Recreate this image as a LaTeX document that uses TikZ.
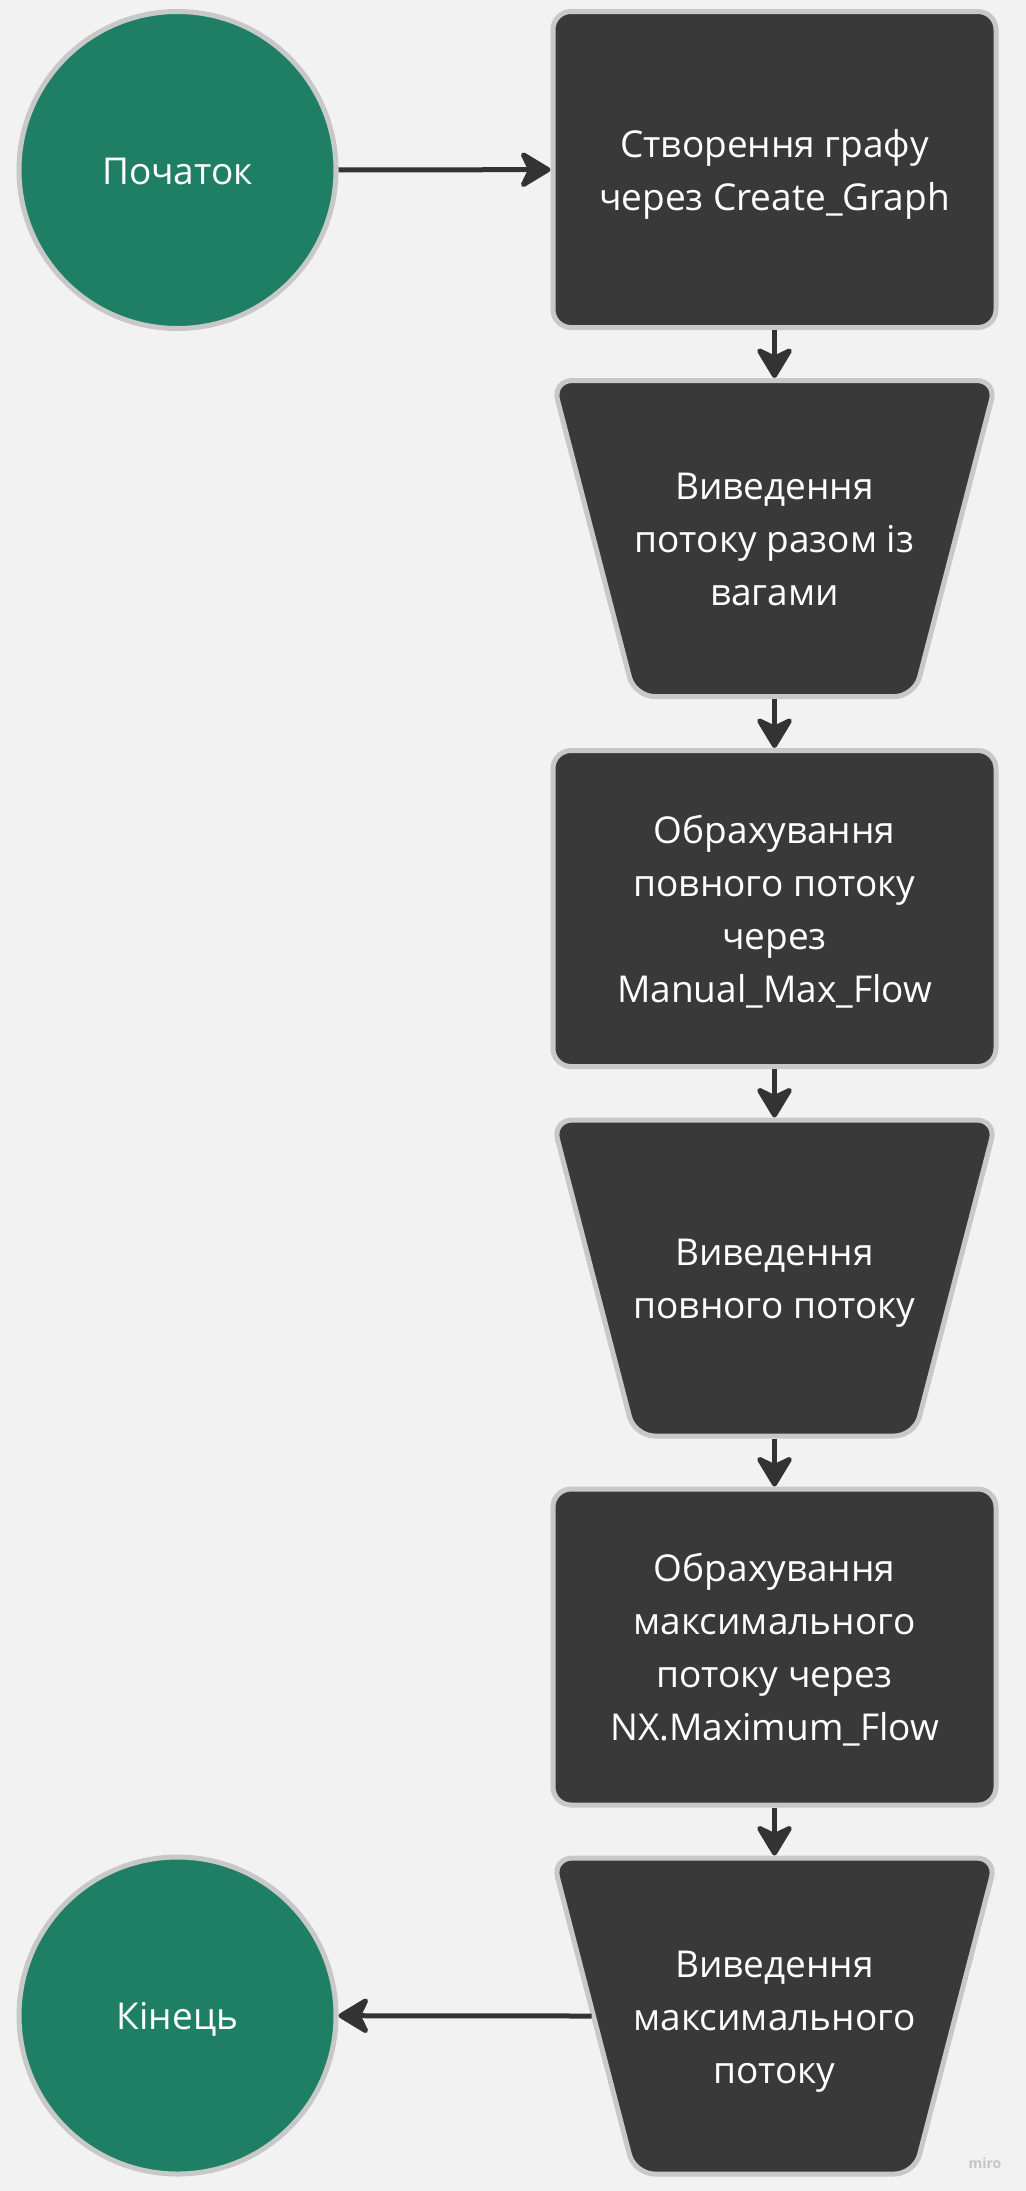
\documentclass[tikz,border=0pt]{standalone}
\usepackage{fontspec}
\setmainfont{Open Sans}
\usetikzlibrary{arrows.meta}
\definecolor{bgc}{HTML}{F2F2F2}
\definecolor{greenc}{HTML}{1E7F65}
\definecolor{boxc}{HTML}{393939}
\definecolor{edgec}{HTML}{C8C8C8}
\definecolor{arrowc}{HTML}{333333}
\definecolor{markc}{HTML}{C4C4C4}
\newcommand{\ls}{\rule[-0.325em]{0pt}{1.425em}}
\tikzset{
  base/.style={text=white, align=center, inner sep=0pt,
    font={\fontsize{18.5pt}{26.5pt}\selectfont}},
  terminal/.style={base, draw=edgec, line width=2.5pt, circle, fill=greenc, minimum size=158.5pt},
  process/.style={base, draw=edgec, line width=2.5pt, rectangle, fill=boxc, rounded corners=9pt,
    minimum width=221.5pt, minimum height=158pt},
  outtext/.style={base, rectangle, outer sep=0pt, minimum width=183pt, minimum height=160.5pt},
  trapshape/.style={draw=edgec, line width=2.5pt, fill=boxc, rounded corners=10pt},
  flow/.style={draw=arrowc, line width=2.5pt,
    -{Stealth[length=17.5pt, width=21pt, inset=5pt, round]}},
}
% name, x, y, text
\newcommand{\outnode}[4]{%
  \path[trapshape] (#2-222,#3-158) -- (#2+222,#3-158) -- (#2+140,#3+158) -- (#2-140,#3+158) -- cycle;
  \node[outtext] (#1) at (#2,#3) {#4};
}
\begin{document}
\begin{tikzpicture}[x=0.5pt, y=-0.5pt]
\fill[bgc] (0,0) rectangle (1026,2191);
\useasboundingbox (0,0) rectangle (1026,2191);
\node[terminal] (start) at (177.5,170) {\ls Початок\ls};
\node[process] (b1) at (774.5,169.5) {\ls Створення графу\\\ls через Create\_Graph};
\outnode{t1}{774.5}{538.5}{\ls Виведення\\\ls потоку разом із\\\ls вагами}
\node[process] (b2) at (774.5,908.5) {\ls Обрахування\\\ls повного потоку\\\ls через\\\ls Manual\_Max\_Flow};
\outnode{t2}{774.5}{1278}{\ls Виведення\\\ls повного потоку}
\node[process] (b3) at (774.5,1647) {\ls Обрахування\\\ls максимального\\\ls потоку через\\\ls NX.Maximum\_Flow};
\outnode{t3}{774.5}{2016}{\ls Виведення\\\ls максимального\\\ls потоку}
\node[terminal] (end) at (177.5,2015.5) {\ls Кінець\ls};
\node[text=markc, font={\fontsize{7pt}{8pt}\selectfont\bfseries}] (mark) at (985,2163) {miro};
\draw[flow] (start) -- (b1);
\draw[flow] (b1) -- (t1);
\draw[flow] (t1) -- (b2);
\draw[flow] (b2) -- (t2);
\draw[flow] (t2) -- (b3);
\draw[flow] (b3) -- (t3);
\draw[flow] (t3.west) -- (end);
\end{tikzpicture}
\end{document}
